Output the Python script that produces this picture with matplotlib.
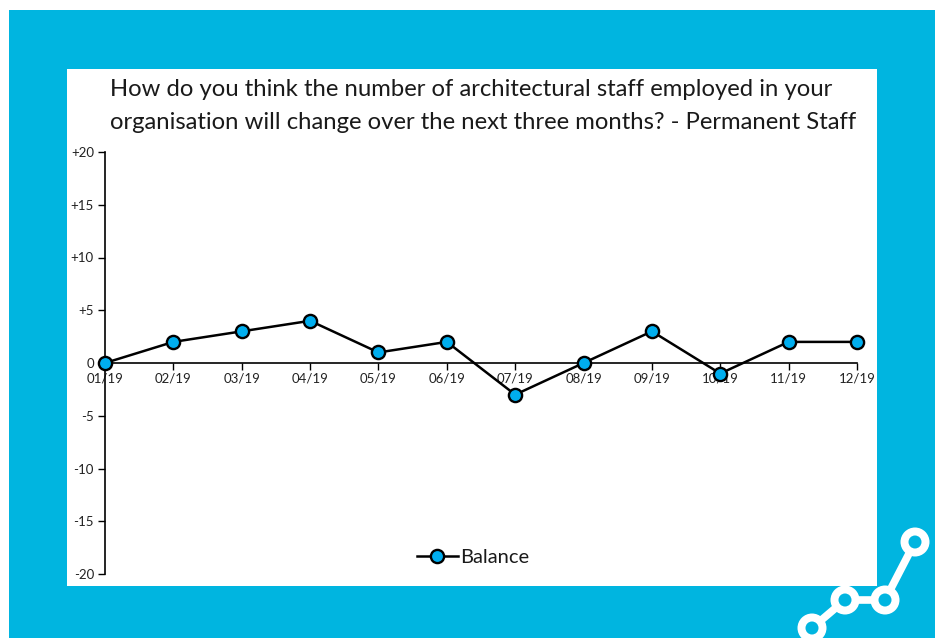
import matplotlib
matplotlib.use("Agg")
import matplotlib.pyplot as plt
from matplotlib.patches import Rectangle, Circle

months = ["01/19", "02/19", "03/19", "04/19", "05/19", "06/19",
          "07/19", "08/19", "09/19", "10/19", "11/19", "12/19"]
balance = [0, 2, 3, 4, 1, 2, -3, 0, 3, -1, 2, 2]
y_ticks = [20, 15, 10, 5, 0, -5, -10, -15, -20]
y_tick_labels = ["+20", "+15", "+10", "+5", "0", "-5", "-10", "-15", "-20"]
title = ("How do you think the number of architectural staff employed in your\n"
         "organisation will change over the next three months? - Permanent Staff")
series_name = "Balance"

BLUE = "#00B5E0"
MARK = "#00AEEF"
W, H = 939, 638
plt.rcParams['font.family'] = ['Lato', 'DejaVu Sans']

fig = plt.figure(figsize=(W / 100, H / 100), dpi=100)
fig.patch.set_facecolor("white")

# background decoration axes in pixel coordinates
bg = fig.add_axes([0, 0, 1, 1], zorder=0)
bg.set_xlim(0, W)
bg.set_ylim(H, 0)
bg.axis("off")
bg.add_patch(Rectangle((9, 10), 926, 640, facecolor=BLUE, edgecolor="none"))
bg.add_patch(Rectangle((67, 69), 810, 517, facecolor="white", edgecolor="none"))
pts = [(812, 628), (845, 600), (885, 600), (915, 542)]
xs, ys = zip(*pts)
bg.plot(xs, ys, color="white", lw=5.5, solid_capstyle="round", zorder=3)
for (cx, cy) in pts:
    bg.add_patch(Circle((cx, cy), 14.5, facecolor="white", edgecolor="none", zorder=4))
    bg.add_patch(Circle((cx, cy), 6.5, facecolor=BLUE, edgecolor="none", zorder=5))

fig.text(110 / W, 1 - 79 / H, title, ha="left", va="top", fontsize=17.2,
         color="#1a1a1a", linespacing=1.72)

# chart axes
left, right = 105 / W, 857 / W
top, bottom = 1 - 152 / H, 1 - 574 / H
ax = fig.add_axes([left, bottom, right - left, top - bottom], zorder=1)
ax.patch.set_alpha(0)
x = list(range(len(months)))
ax.plot(x, balance, color="black", lw=1.8, marker="o", markersize=9.5,
        markerfacecolor=MARK, markeredgecolor="black", markeredgewidth=1.7,
        label=series_name, clip_on=False, zorder=5)
ax.set_xlim(0, len(months) - 1)
ax.set_ylim(-20, 20)
ax.set_yticks(y_ticks)
ax.set_yticklabels(y_tick_labels)
ax.set_xticks(x)
ax.set_xticklabels(months)
for s in ["top", "right"]:
    ax.spines[s].set_visible(False)
ax.spines["bottom"].set_position(("data", 0))
ax.spines["bottom"].set_linewidth(1.2)
ax.spines["left"].set_linewidth(1.2)
ax.tick_params(axis="y", direction="out", length=5, width=1, labelsize=9.5,
               colors="black", pad=3, labelcolor="#222222")
ax.tick_params(axis="x", direction="out", length=5, width=1, labelsize=9.5,
               pad=2, labelcolor="#222222")

leg = ax.legend(loc="center", bbox_to_anchor=(0.49, 0.04), frameon=False,
                fontsize=14.5, handlelength=2.0, handletextpad=0.15,
                borderaxespad=0)
for t in leg.get_texts():
    t.set_color("#1a1a1a")

fig.savefig("out.png", dpi=100)
